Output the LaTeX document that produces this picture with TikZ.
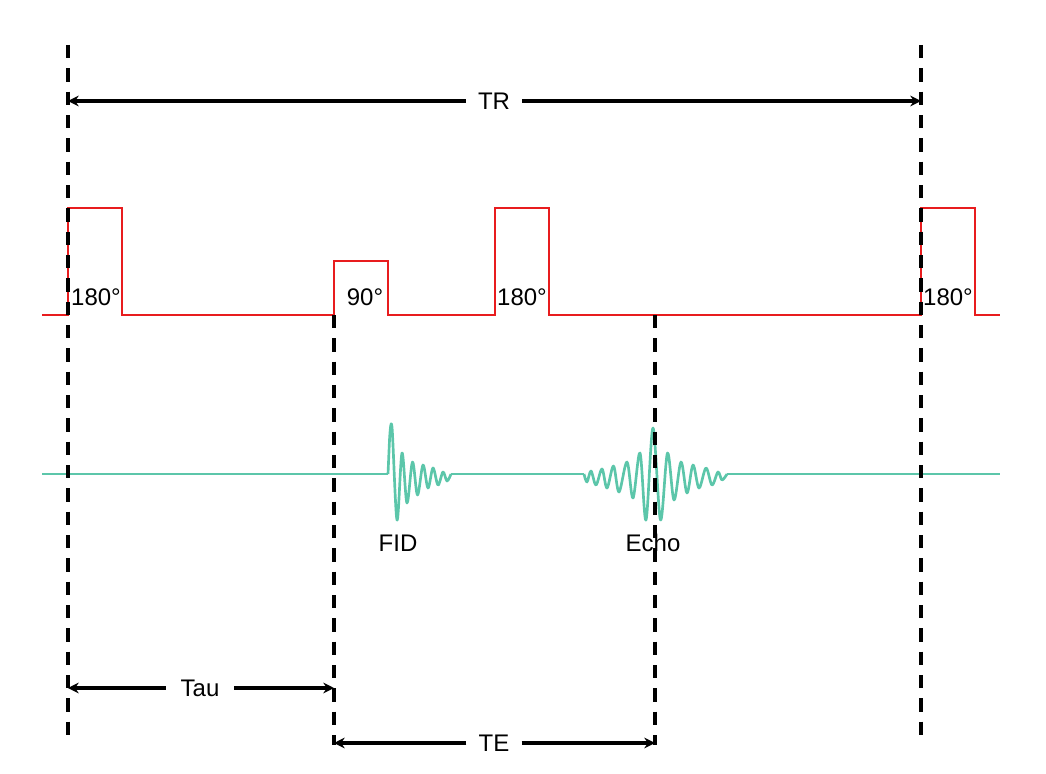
\documentclass[tikz,border=0pt]{standalone}
\usepackage{fontspec}
\setmainfont{Liberation Sans}
\usetikzlibrary{arrows.meta}
\definecolor{pulsered}{RGB}{232,28,30}
\definecolor{sigteal}{RGB}{92,198,170}
\begin{document}
\begin{tikzpicture}[x=0.75pt,y=-0.75pt,
  guide/.style={black,line width=2.4pt,dash pattern=on 10pt off 7.5pt},
  dim/.style={black,line width=2.3pt,-{Stealth[length=8pt,width=8pt]}},
  pulse/.style={pulsered,line width=2pt,line join=miter},
  sig/.style={sigteal,line width=2pt,line join=round},
  lbl/.style={font=\fontsize{18}{20}\selectfont,inner sep=0pt},
  gaplbl/.style={lbl,fill=white,inner xsep=9pt,inner ysep=2pt}]
\useasboundingbox (0,0) rectangle (1046,774);
% guide lines
\coordinate (g1t) at (68,45);   \coordinate (g1b) at (68,745);
\coordinate (g2t) at (334,315); \coordinate (g2b) at (334,745);
\coordinate (g3t) at (655,315); \coordinate (g3b) at (655,745);
\coordinate (g4t) at (921,45);  \coordinate (g4b) at (921,745);
% pulse train
\draw[pulse] (42,315) -- (68,315) -- (68,208) -- (122,208) -- (122,315)
  -- (334,315) -- (334,261) -- (388,261) -- (388,315)
  -- (495,315) -- (495,208) -- (549,208) -- (549,315)
  -- (921,315) -- (921,208) -- (975,208) -- (975,315) -- (1000,315);
% signal: baseline
\draw[sig] (42,474) -- (388,474);
\draw[sig] (451,474) -- (584,474);
\draw[sig] (727,474) -- (1000,474);
% FID
\draw[sig] (388,474) -- (389.5,440)
  plot[smooth,tension=0.55] coordinates {(389.5,440) (392,427) (397,520) (402,453) (407,503)
  (412.5,462) (417.5,495) (423,465) (428,488) (433,468) (438,485) (443,472)
  (447,481) (451,474)};
% Echo
\draw[sig] plot[smooth,tension=0.55] coordinates {(584,474) (587,482) (591,471) (596,485)
  (602,469) (607,488) (613.5,466) (619,492) (627,462) (633,498) (640,453)
  (646,520) (653,428) (660.5,520) (667.5,453) (674,500) (681,462) (687,493)
  (693,465) (699,488) (706,468) (712,485) (718,472) (722,480) (727,474)};
% guides
\draw[guide] (g1t) -- (g1b);
\draw[guide] (g2t) -- (g2b);
\draw[guide] (g3t) -- (g3b);
\draw[guide] (g4t) -- (g4b);
% pulse labels
\node[lbl] (p1) at (96,297) {180°};
\node[lbl] (p2) at (365,297) {90°};
\node[lbl] (p3) at (522,297) {180°};
\node[lbl] (p4) at (948,297) {180°};
\node[lbl] (fid) at (398,543) {FID};
\node[lbl] (echo) at (653,543) {Echo};
% dimension arrows
\coordinate (trl) at (68,101); \coordinate (trr) at (921,101);
\node[gaplbl] (tr) at (494,101) {TR};
\draw[dim] (tr.west) -- (trl);
\draw[dim] (tr.east) -- (trr);
\coordinate (tal) at (68,688); \coordinate (tar) at (334,688);
\node[gaplbl,inner xsep=11pt] (tau) at (200,688) {Tau};
\draw[dim] (tau.west) -- (tal);
\draw[dim] (tau.east) -- (tar);
\coordinate (tel) at (334,743); \coordinate (ter) at (655,743);
\node[gaplbl] (te) at (494,743) {TE};
\draw[dim] (te.west) -- (tel);
\draw[dim] (te.east) -- (ter);
\end{tikzpicture}
\end{document}
